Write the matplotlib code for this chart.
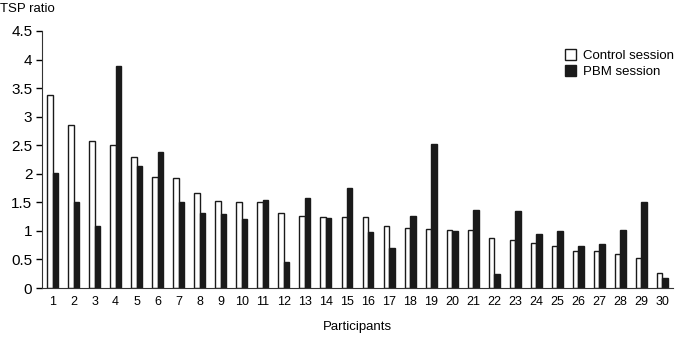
import numpy as np
import matplotlib.pyplot as plt

plt.rcParams['font.family'] = ['Liberation Sans', 'DejaVu Sans']

# TSP ratio per participant
participants = np.arange(1, 31)
control = [3.38, 2.85, 2.58, 2.50, 2.30, 1.94, 1.92, 1.67, 1.53, 1.51,
           1.51, 1.32, 1.26, 1.25, 1.25, 1.25, 1.09, 1.05, 1.04, 1.01,
           1.01, 0.88, 0.84, 0.79, 0.74, 0.64, 0.64, 0.60, 0.52, 0.27]
pbm = [2.01, 1.50, 1.09, 3.89, 2.14, 2.39, 1.50, 1.32, 1.29, 1.21,
       1.54, 0.45, 1.57, 1.22, 1.75, 0.98, 0.70, 1.26, 2.53, 1.00,
       1.37, 0.25, 1.35, 0.94, 1.00, 0.73, 0.77, 1.02, 1.50, 0.17]
yticks = [0, 0.5, 1, 1.5, 2, 2.5, 3, 3.5, 4, 4.5]
ytick_labels = ['0', '0.5', '1', '1.5', '2', '2.5', '3', '3.5', '4', '4.5']

fig = plt.figure(figsize=(6.77, 3.47), dpi=100)
ax = fig.add_axes([42 / 677, 1 - 288 / 347, 631 / 677, 257 / 347])

w = 0.26
ax.bar(participants - w / 2, control, width=w, color='white', edgecolor='#1a1a1a',
       linewidth=1.0, label='Control session')
ax.bar(participants + w / 2, pbm, width=w, color='#1a1a1a', edgecolor='#1a1a1a',
       linewidth=1.0, label='PBM session')

ax.set_xlim(0.5, 30.5)
ax.set_ylim(0, 4.5)
ax.set_yticks(yticks)
ax.set_yticklabels(ytick_labels, fontsize=11)
ax.set_xticks(participants)
ax.set_xticklabels([str(p) for p in participants], fontsize=9)
ax.tick_params(axis='x', length=0, pad=6)
ax.tick_params(axis='y', length=4, width=1, direction='out', pad=3)

for s in ['top', 'right']:
    ax.spines[s].set_visible(False)
ax.spines['left'].set_color('#333333')
ax.spines['bottom'].set_color('#333333')

ax.set_xlabel('Participants', fontsize=9.5, labelpad=9)
fig.text(0.0, 1 - 9 / 347, 'TSP ratio', fontsize=9.5, va='center', ha='left')

ax.legend(loc='upper right', bbox_to_anchor=(1.01, 0.95), frameon=False, fontsize=9.5,
          handlelength=0.9, handleheight=0.9, handletextpad=0.5, labelspacing=0.2,
          borderaxespad=0)

fig.savefig('out.png', dpi=100)
